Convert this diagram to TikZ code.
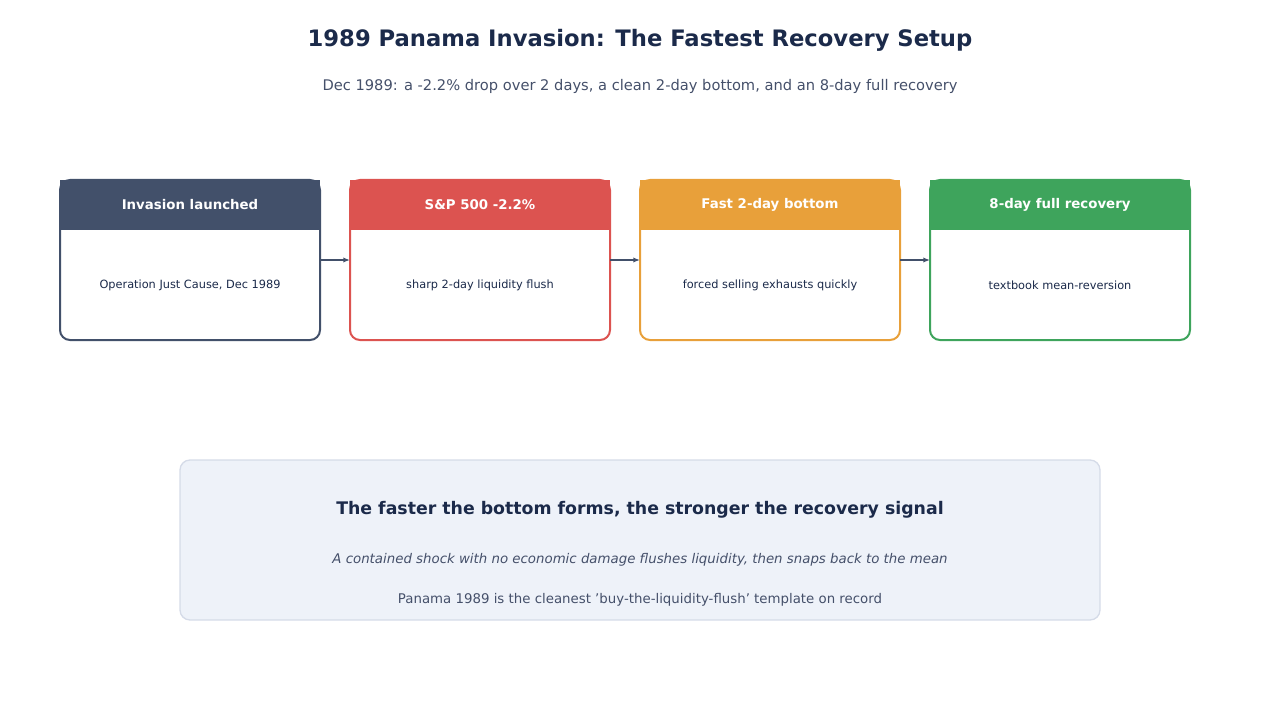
\documentclass[tikz,border=0pt]{standalone}
\usepackage{fontspec}
\setmainfont{DejaVu Sans}
\usetikzlibrary{arrows.meta}
\definecolor{cdark}{HTML}{42506A}
\definecolor{cred}{HTML}{DC5350}
\definecolor{corange}{HTML}{E8A03A}
\definecolor{cgreen}{HTML}{3EA45C}
\definecolor{ctitle}{HTML}{1B2A4A}
\definecolor{csub}{HTML}{45506A}
\definecolor{cpanel}{HTML}{EEF2F9}
\definecolor{cpanelb}{HTML}{D5DBE8}
\tikzset{
  hdr/.style={font=\bfseries\fontsize{10}{12}\selectfont, text=white},
  bodytxt/.style={font=\fontsize{8.5}{10}\selectfont, text=ctitle},
  conn/.style={draw=cdark, line width=1.1pt, -{Latex[length=5pt,width=4pt]}}
}
\begin{document}
\begin{tikzpicture}[x=0.75pt,y=-0.75pt]
\useasboundingbox (0,0) rectangle (1280,720);
\node[font=\bfseries\fontsize{17}{20}\selectfont, text=ctitle] (title) at (640,40) {1989 Panama Invasion: The Fastest Recovery Setup};
\node[font=\fontsize{11}{13}\selectfont, text=csub] (sub) at (640,86) {Dec 1989: a -2.2\% drop over 2 days, a clean 2-day bottom, and an 8-day full recovery};
\foreach \x/\c/\h/\b/\n in {60/cdark/{Invasion launched}/{Operation Just Cause, Dec 1989}/b1,
  350/cred/{S\&P 500 -2.2\%}/{sharp 2-day liquidity flush}/b2,
  640/corange/{Fast 2-day bottom}/{forced selling exhausts quickly}/b3,
  930/cgreen/{8-day full recovery}/{textbook mean-reversion}/b4}{
  \fill[white, rounded corners=7.5pt] (\x,180) rectangle ++(260,160);
  \fill[\c] (\x,180) rectangle ++(260,50);
  \draw[\c, line width=1.5pt, rounded corners=7.5pt] (\x,180) rectangle ++(260,160);
  \coordinate (\n w) at (\x,260);
  \coordinate (\n e) at (\x+260,260);
  \node[hdr] (\n h) at (\x+130,205) {\h};
  \node[bodytxt] (\n t) at (\x+130,285) {\b};
}
\draw[conn] (b1e) -- (b2w);
\draw[conn] (b2e) -- (b3w);
\draw[conn] (b3e) -- (b4w);
\draw[fill=cpanel, draw=cpanelb, line width=1pt, rounded corners=7.5pt] (180,460) rectangle (1100,620);
\node[font=\bfseries\fontsize{13}{15}\selectfont, text=ctitle] (pt) at (640,510) {The faster the bottom forms, the stronger the recovery signal};
\node[font=\itshape\fontsize{10}{12}\selectfont, text=csub] (p1) at (640,560) {A contained shock with no economic damage flushes liquidity, then snaps back to the mean};
\node[font=\fontsize{10}{12}\selectfont, text=csub] (p2) at (640,600) {Panama 1989 is the cleanest 'buy-the-liquidity-flush' template on record};
\end{tikzpicture}
\end{document}
